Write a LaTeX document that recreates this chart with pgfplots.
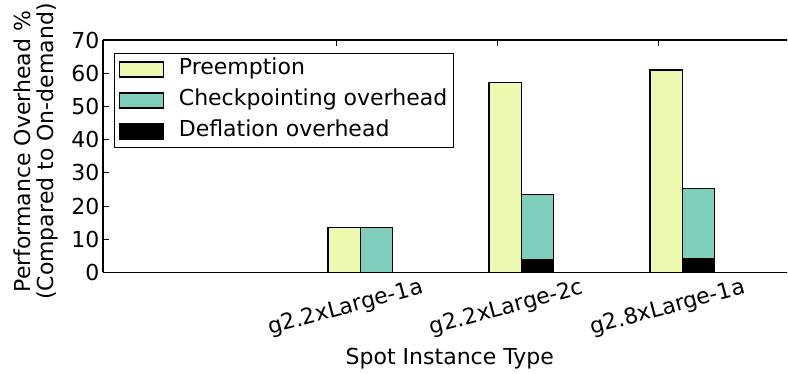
\documentclass[border=0pt]{standalone}
\usepackage{fontspec}
\setmainfont{DejaVu Sans}
\usepackage{pgfplots}
\pgfplotsset{compat=1.18}
\definecolor{preempt}{RGB}{237,248,177}
\definecolor{ckpt}{RGB}{127,205,187}
\newcommand{\chartfont}{\fontsize{22bp}{23bp}\selectfont}
\pgfplotsset{bigleg/.style={legend image code/.code={\draw[##1] (0bp,-7.5bp) rectangle (44bp,7.5bp);}}}
\begin{document}
\begin{tikzpicture}
\path (-103bp,-101.3bp) rectangle (685bp,270.7bp);
\begin{axis}[
  at={(0,0)}, anchor=south west,
  width=684bp, height=232.4bp, scale only axis,
  xmin=-0.447, xmax=3.80, ymin=0, ymax=70,
  axis x line*=box, axis y line*=left,
  axis line style={black, line width=1.3bp},
  xtick={1,2,3},
  xticklabels={g2.2xLarge-1a, g2.2xLarge-2c, g2.8xLarge-1a},
  ytick={0,10,...,70},
  tick align=inside,
  major tick length=6bp,
  tick style={black, line width=1bp},
  /pgf/number format/assume math mode=true,
  every axis x label/.style={at={(axis description cs:0.507,-0.37)}, anchor=center, font=\chartfont},
  every axis y label/.style={at={(axis description cs:-0.098,0.52)}, anchor=center, rotate=90, align=center, font=\chartfont},
  xlabel={Spot Instance Type},
  ylabel={Performance Overhead \%\\(Compared to On-demand)},
  legend style={at={(0.016,0.945)}, anchor=north west, draw=black, line width=1.3bp,
    font=\chartfont, inner sep=4bp, row sep=7bp,
    nodes={inner sep=2bp, text height=15.5bp, text depth=4.5bp},
    /tikz/every odd column/.append style={column sep=13bp}},
  legend cell align=left,
  every tick label/.append style={font=\chartfont},
  every x tick label/.append style={rotate=15, anchor=center, yshift=-37bp},
]
\addplot[ybar, bar width=0.2, bar shift=0pt, fill=preempt, draw=black, line width=1.3bp, bigleg]
  coordinates {(1.05,13.6) (2.05,57.2) (3.05,61.0)};
\addlegendentry{Preemption}
\addplot[ybar, bar width=0.2, bar shift=0pt, fill=ckpt, draw=black, line width=1.3bp, bigleg]
  coordinates {(1.25,13.6) (2.25,23.4) (3.25,25.2)};
\addlegendentry{Checkpointing overhead}
\addplot[ybar, bar width=0.2, bar shift=0pt, fill=black, draw=black, line width=1.3bp, bigleg]
  coordinates {(2.25,3.8) (3.25,4.1)};
\addlegendentry{Deflation overhead}
\end{axis}
\end{tikzpicture}
\end{document}
